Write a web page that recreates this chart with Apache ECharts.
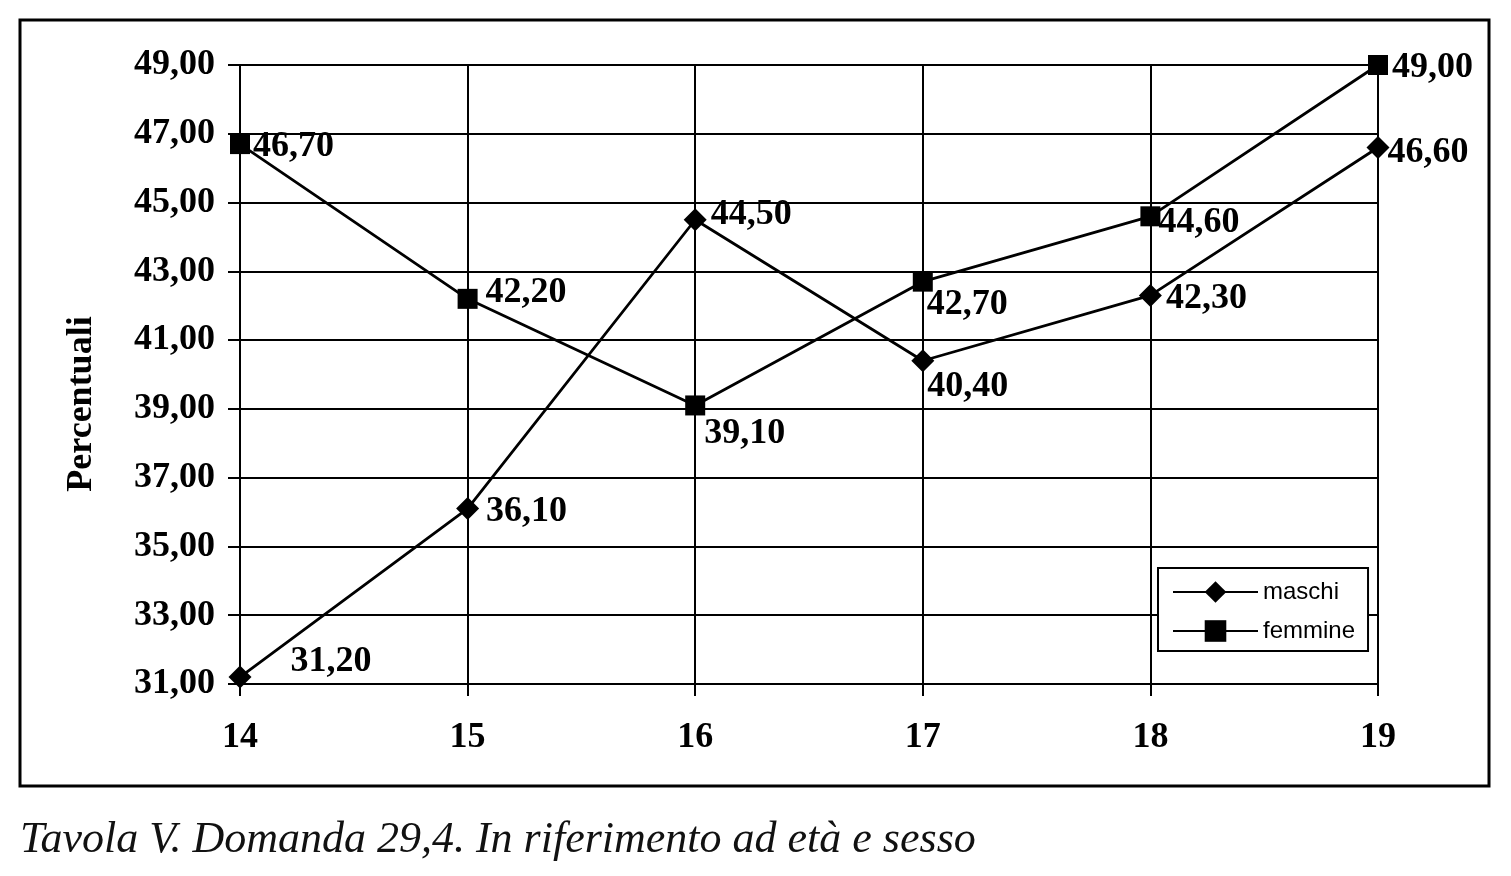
<!DOCTYPE html>
<html>
<head>
<meta charset="utf-8">
<script src="https://cdn.jsdelivr.net/npm/echarts@6/dist/echarts.min.js"></script>
<style>
html,body{margin:0;padding:0;background:#fff;}
#chart{width:1511px;height:876px;}
</style>
</head>
<body>
<div id="chart"></div>
<script>
const categories = ['14', '15', '16', '17', '18', '19'];
const maschi = [31.2, 36.1, 44.5, 40.4, 42.3, 46.6];
const femmine = [46.7, 42.2, 39.1, 42.7, 44.6, 49.0];
const yMin = 31, yMax = 49, yStep = 2;
const seriesNames = ['maschi', 'femmine'];
const yAxisName = 'Percentuali';
const caption = 'Tavola V. Domanda 29,4. In riferimento ad età e sesso';

// label offsets (style only)
const maschiLabelOffset = [[35, -15], [3, 3], [0, -5], [-11, 26], [0, 3], [-6, 5]];
const femmineLabelOffset = [[-1, 3], [4, -6], [-5, 28], [-10, 23], [-6, 6], [0, 3]];

const fmt = v => v.toFixed(2).replace('.', ',');
const serif = '"Liberation Serif", "Times New Roman", serif';

function mkData(vals, offs) {
  return vals.map((v, i) => ({
    value: v,
    label: { offset: offs[i] }
  }));
}

const chart = echarts.init(document.getElementById('chart'));
chart.setOption({
  animation: false,
  backgroundColor: '#fff',
  grid: { left: 240, right: 133, top: 65, bottom: 192, containLabel: false },
  graphic: [
    { type: 'rect', shape: { x: 20, y: 20, width: 1469, height: 766 },
      style: { fill: 'none', stroke: '#000', lineWidth: 3 }, z: -1 },
    { type: 'text', left: 20, top: 818,
      style: { text: caption, font: 'italic 44px ' + serif, fill: '#111' } },
    { type: 'text', x: 82, y: 404, rotation: Math.PI / 2,
      style: { text: yAxisName, font: 'bold 36px ' + serif, fill: '#000',
        align: 'center', verticalAlign: 'middle' } }
  ],
  legend: {
    orient: 'vertical',
    left: 1158, top: 568,
    padding: [12, 13, 8, 14],
    itemWidth: 85, itemHeight: 27, itemGap: 15,
    borderColor: '#000', borderWidth: 2,
    backgroundColor: '#fff',
    textStyle: { fontFamily: '"Liberation Sans", Arial, sans-serif', fontSize: 24, color: '#000' },
    data: seriesNames
  },
  xAxis: {
    type: 'category',
    data: categories,
    boundaryGap: false,
    axisLine: { lineStyle: { color: '#000', width: 2 } },
    axisTick: { show: true, length: 12, lineStyle: { color: '#000', width: 2 } },
    axisLabel: { margin: 36, fontFamily: serif, fontWeight: 'bold', fontSize: 36, color: '#000' },
    splitLine: { show: true, lineStyle: { color: '#000', width: 2 } }
  },
  yAxis: {
    type: 'value',
    min: yMin, max: yMax, interval: yStep,
    axisLine: { show: true, lineStyle: { color: '#000', width: 2 } },
    axisTick: { show: true, length: 12, lineStyle: { color: '#000', width: 2 } },
    axisLabel: { margin: 25, formatter: fmt, fontFamily: serif, fontWeight: 'bold', fontSize: 36, color: '#000' },
    splitLine: { show: true, lineStyle: { color: '#000', width: 2 } }
  },
  series: [
    {
      name: seriesNames[0], type: 'line',
      data: mkData(maschi, maschiLabelOffset),
      symbol: 'diamond', symbolSize: 23,
      lineStyle: { color: '#000', width: 2.8 },
      itemStyle: { color: '#000' },
      label: { show: true, position: 'right', distance: 4, formatter: p => fmt(p.value),
        fontFamily: serif, fontWeight: 'bold', fontSize: 36, color: '#000' },
      z: 3
    },
    {
      name: seriesNames[1], type: 'line',
      data: mkData(femmine, femmineLabelOffset),
      symbol: 'rect', symbolSize: 20,
      lineStyle: { color: '#000', width: 2.8 },
      itemStyle: { color: '#000' },
      label: { show: true, position: 'right', distance: 4, formatter: p => fmt(p.value),
        fontFamily: serif, fontWeight: 'bold', fontSize: 36, color: '#000' },
      z: 3
    }
  ]
});
</script>
</body>
</html>
